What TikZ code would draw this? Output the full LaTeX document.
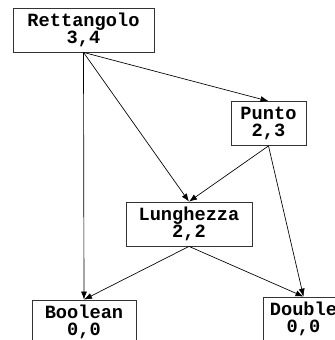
\documentclass[tikz,border=0pt]{standalone}
\usepackage{fontspec}
\setmonofont{Liberation Mono}
\usetikzlibrary{arrows.meta,positioning}

\begin{document}
\begin{tikzpicture}[
    x=0.75pt, y=-0.75pt,
    cls/.style={rectangle, draw=black!80, line width=0.6pt, fill=white, align=center,
        inner sep=0pt, minimum height=33pt,
        font=\fontsize{14}{12.6}\selectfont\ttfamily\bfseries},
    arrow/.style={-{Latex[length=6pt,width=4.5pt]}, line width=0.5pt}
]

\clip (0,0) rectangle (335,340);
\fill[white] (0,0) rectangle (335,340);

% Classes
\node[cls, minimum width=105.75pt] (rett) at (83.5,30) {Rettangolo\\3,4};
\node[cls, minimum width=56.25pt] (punto) at (268.5,123.5) {Punto\\2,3};
\node[cls, minimum width=94.5pt] (lung) at (189,224) {Lunghezza\\2,2};
\node[cls, minimum width=78pt] (bool) at (84,322) {Boolean\\0,0};
\node[cls, minimum width=60pt] (dbl) at (303.5,319) {Double\\0,0};

% Dependencies
\draw[arrow] (rett.south) -- (bool.north);
\draw[arrow] (rett.south) -- (lung.north);
\draw[arrow] (rett.south) -- (punto.north);
\draw[arrow] (punto.south) -- (lung.north);
\draw[arrow] (punto.south) -- (dbl.north);
\draw[arrow] (lung.south) -- (bool.north);
\draw[arrow] (lung.south) -- (dbl.north);

\end{tikzpicture}
\end{document}
